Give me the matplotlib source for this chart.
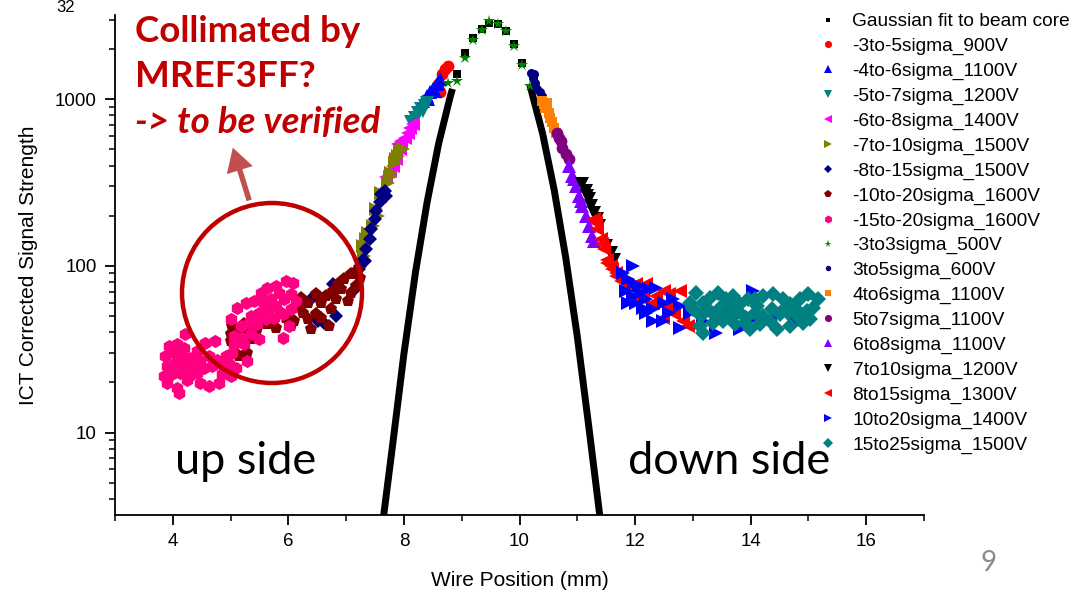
import matplotlib
matplotlib.use("Agg")
import matplotlib.pyplot as plt
from matplotlib.patches import Ellipse, FancyArrowPatch
from matplotlib.ticker import LogLocator, MultipleLocator, NullFormatter, FixedLocator


# ============================================
# Wire scan of the beam halo
# ICT corrected signal vs wire position, one series per
# sigma range / detector HV setting, with the Gaussian core fit
# ============================================

# Gaussian fit to the beam core (sparse points at the top + dense tails)
fit_x = [8.91, 9.06, 9.20, 9.35, 9.48, 9.62, 9.77, 9.91, 10.05]
fit_y = [1413, 1888, 2315, 2633, 2860, 2818, 2573, 2138, 1660]
fit_left_x = [7.64, 7.80, 8.00, 8.20, 8.40, 8.60, 8.80, 8.84]
fit_left_y = [3.0, 8.2, 29.7, 91.6, 240, 540, 1033, 1153]
fit_right_x = [10.18, 10.40, 10.60, 10.80, 11.00, 11.20, 11.42]
fit_right_y = [1216, 622, 286, 112, 37.7, 10.8, 2.6]

# up side
m3_5_x = [8.536, 8.593, 8.652, 8.710, 8.757, 8.623]
m3_5_y = [1148, 1230, 1413, 1514, 1585, 1097]

m4_6_x = [8.333, 8.391, 8.449, 8.508, 8.565, 8.623, 8.420, 8.536, 8.593]
m4_6_y = [977, 1047, 1097, 1148, 1230, 1318, 1000, 1122, 1259]

m5_7_x = [8.130, 8.188, 8.247, 8.304, 8.362, 8.391, 8.217, 8.333]
m5_7_y = [725, 776, 832, 871, 912, 955, 759, 851]

m6_8_x = [7.696, 7.753, 7.812, 7.870, 7.927, 7.957, 8.014, 8.073, 8.101, 8.160, 7.899, 7.840]
m6_8_y = [339, 371, 397, 436, 501, 562, 589, 631, 676, 708, 537, 456]

m7_10_x = [7.290, 7.348, 7.464, 7.522, 7.609, 7.725, 7.783, 7.840, 7.899, 7.927,
           7.986, 7.753, 7.870, 7.551, 7.316, 7.377]
m7_10_y = [131, 144, 173, 218, 275, 316, 363, 417, 456, 489,
           501, 339, 436, 199, 115, 158]

m8_15_x = [6.392, 6.508, 6.623, 6.826, 6.768, 7.145, 7.232, 7.319,
           7.231, 7.290, 7.348, 7.405, 7.435, 7.492, 7.522, 7.579, 7.609, 7.666, 7.696]
m8_15_y = [63.0, 46.7, 45.6, 50.0, 77.4, 72.3, 99.8, 107,
           95.3, 109, 126, 144, 166, 190, 213, 240, 269, 281, 263]

m10_20_x = [5.029, 5.000, 5.058, 5.145, 5.290, 5.145, 5.290, 5.464, 5.348, 5.522,
            5.667, 5.783, 5.957, 6.102, 6.218, 6.334, 6.247, 6.392, 6.479, 6.565,
            6.479, 6.652, 6.739, 6.710, 6.826, 6.913, 6.971, 7.087, 7.174, 7.029,
            7.087, 7.232, 6.855, 6.768, 6.160, 6.334, 6.565, 5.638, 5.232, 5.000,
            5.522, 5.870, 6.044, 7.200, 7.150]
m10_20_y = [43.6, 38.8, 33.0, 28.7, 30.1, 40.6, 39.7, 41.6, 36.2, 48.9,
            54.8, 42.6, 48.9, 46.7, 64.4, 60.1, 52.4, 41.6, 67.5, 60.1,
            51.2, 65.9, 54.8, 43.6, 63.0, 72.3, 83.0, 88.9, 75.7, 61.5,
            69.0, 84.9, 77.4, 70.6, 57.4, 47.8, 48.9, 44.6, 44.6, 35.4,
            46.7, 52.4, 43.6, 95.0, 90.0]

m15_20_x = [3.928, 4.073, 4.189, 3.870, 4.015, 4.160, 4.305, 4.421, 4.566, 4.739,
            4.218, 3.899, 4.044, 4.189, 4.334, 4.479, 4.623, 4.768, 4.913, 5.029,
            3.841, 3.986, 4.131, 4.276, 4.421, 4.537, 4.681, 4.826, 4.971, 5.087,
            3.899, 4.073, 4.247, 4.479, 4.623, 4.797, 5.000, 4.102, 4.363, 4.855,
            5.000, 5.116, 5.261, 5.406, 5.522, 5.638, 5.783, 5.957, 6.073, 5.348,
            5.493, 5.638, 5.783, 5.928, 6.044, 6.131, 5.174, 5.319, 5.464, 5.609,
            5.754, 5.899, 6.044, 5.058, 5.203, 5.348, 5.493, 5.899, 6.015, 5.232,
            5.290, 5.058, 5.696, 5.841, 5.580]
m15_20_y = [33.0, 33.8, 32.3, 28.7, 30.1, 28.7, 28.1, 30.8, 34.6, 35.4,
            38.8, 25.0, 26.2, 25.0, 26.8, 27.4, 28.7, 27.4, 28.7, 30.1,
            21.8, 22.3, 22.8, 21.8, 22.8, 24.4, 25.0, 25.6, 25.6, 24.4,
            19.9, 18.5, 20.8, 19.9, 19.1, 19.7, 21.8, 17.3, 23.9, 22.3,
            47.8, 56.1, 60.0, 61.5, 69.0, 74.0, 76.0, 81.0, 79.0, 50.0,
            52.4, 54.8, 57.4, 63.0, 67.5, 61.5, 43.6, 45.6, 44.6, 47.8,
            48.9, 51.2, 54.8, 37.9, 37.1, 38.8, 36.2, 37.1, 43.6, 33.8,
            26.8, 33.8, 63.0, 69.0, 60.0]

# beam core
core_x = [8.77, 8.91, 9.06, 9.20, 9.35, 9.48, 9.62, 9.77, 9.91, 10.05, 10.19]
core_y = [1259, 1288, 1778, 2268, 2606, 2953, 2810, 2551, 2075, 1601, 1202]

# down side
p3_5_x = [10.205, 10.229, 10.275, 10.304, 10.362, 10.391, 10.246]
p3_5_y = [1445, 1349, 1259, 1148, 1097, 1047, 1413]

p4_6_x = [10.391, 10.449, 10.508, 10.536, 10.565, 10.595, 10.623, 10.478, 10.420]
p4_6_y = [977, 891, 832, 776, 725, 676, 631, 955, 933]

p5_7_x = [10.652, 10.710, 10.739, 10.797, 10.855, 10.681]
p5_7_y = [631, 562, 513, 468, 436, 589]

p6_8_x = [10.855, 10.913, 10.971, 11.030, 11.087, 11.145, 11.203, 11.261, 11.290, 10.942, 11.058]
p6_8_y = [398, 347, 302, 263, 229, 199, 173, 151, 141, 331, 245]

p7_10_x = [11.087, 11.145, 11.203, 11.230, 11.290, 11.377, 11.492, 11.579, 11.637, 11.174, 11.348]
p7_10_y = [309, 281, 251, 229, 209, 173, 131, 120, 109, 263, 190]

p8_15_x = [11.290, 11.348, 11.405, 11.464, 11.522, 11.579, 11.667, 11.319, 11.435,
           11.522, 11.609, 11.666, 11.753, 11.870, 12.014, 12.188, 12.362, 12.508, 12.595,
           12.769, 12.565, 12.682, 12.826, 12.304, 12.130, 11.957, 12.913, 12.478]
p8_15_y = [190, 166, 144, 126, 109, 99.8, 91.0, 182, 135,
           104, 95.3, 86.9, 81.1, 75.7, 77.5, 77.5, 65.9, 70.6, 67.5,
           70.6, 57.4, 51.2, 46.6, 60.1, 63.0, 63.0, 43.5, 48.9]

p10_20_x = [11.957, 11.783, 11.870, 11.986, 12.073, 11.838, 11.957, 12.099, 12.247, 12.362,
            12.188, 12.014, 11.870, 12.304, 12.508, 12.652, 12.769, 12.188, 12.478, 12.769,
            13.174, 13.464, 13.638, 13.812, 14.043, 14.449, 14.797, 13.405, 12.943, 13.870,
            14.043, 12.304, 12.130, 12.595]
p10_20_y = [99.8, 91.0, 83.0, 79.3, 75.7, 70.6, 65.9, 69.0, 72.3, 73.9,
            63.0, 60.1, 60.1, 54.8, 60.1, 63.0, 57.4, 52.4, 46.6, 42.5,
            46.6, 50.0, 54.8, 41.6, 70.6, 50.0, 45.6, 39.7, 52.4, 52.4,
            47.8, 46.6, 56.1, 52.4]

p15_25_x = [13.058, 13.174, 13.290, 13.435, 13.580, 13.696, 13.812, 13.957, 14.102, 14.217,
            14.391, 14.565, 14.681, 14.855, 15.000, 15.174, 13.000, 13.145, 13.290, 13.464,
            13.638, 13.783, 13.928, 14.073, 14.217, 14.362, 14.507, 14.652, 14.797, 14.971,
            15.087, 13.116, 13.348, 13.522, 13.725, 13.899, 14.159, 14.449, 14.681, 14.913,
            13.174, 13.986, 14.333, 15.029, 12.942, 14.594, 13.696, 13.435, 14.073, 14.768]
p15_25_y = [69.0, 60.1, 64.4, 69.0, 63.0, 65.9, 58.7, 63.0, 57.4, 65.9,
            67.5, 63.0, 58.7, 63.0, 67.5, 63.0, 54.8, 50.0, 53.6, 56.1,
            51.2, 53.6, 48.9, 52.4, 50.0, 54.8, 51.2, 52.4, 50.0, 53.6,
            56.1, 43.6, 45.6, 46.7, 44.6, 45.6, 44.6, 41.6, 43.6, 45.6,
            39.6, 41.6, 46.7, 47.8, 60.1, 56.1, 57.4, 51.2, 63.0, 56.1]

x_ticks = [4, 6, 8, 10, 12, 14, 16]
y_ticks = [10, 100, 1000]

RED = "#C00000"
FONT = "Liberation Sans"


def series_table():
    # label, x, y, marker, colour, marker size
    return [
        ("Gaussian fit to beam core", fit_x, fit_y, "s", "black", 6.0),
        ("-3to-5sigma_900V", m3_5_x, m3_5_y, "o", "#FF0000", 8.5),
        ("-4to-6sigma_1100V", m4_6_x, m4_6_y, "^", "#0000FF", 9.5),
        ("-5to-7sigma_1200V", m5_7_x, m5_7_y, "v", "#008080", 9.5),
        ("-6to-8sigma_1400V", m6_8_x, m6_8_y, "<", "#FF00FF", 9.5),
        ("-7to-10sigma_1500V", m7_10_x, m7_10_y, ">", "#808000", 9.5),
        ("-8to-15sigma_1500V", m8_15_x, m8_15_y, "D", "#000080", 7.5),
        ("-10to-20sigma_1600V", m10_20_x, m10_20_y, "p", "#800000", 9.5),
        ("-15to-20sigma_1600V", m15_20_x, m15_20_y, "h", "#FF0080", 9.5),
        ("-3to3sigma_500V", core_x, core_y, "*", "#008000", 9.0),
        ("3to5sigma_600V", p3_5_x, p3_5_y, "o", "#000080", 6.5),
        ("4to6sigma_1100V", p4_6_x, p4_6_y, "s", "#FF8000", 7.5),
        ("5to7sigma_1100V", p5_7_x, p5_7_y, "o", "#800080", 8.5),
        ("6to8sigma_1100V", p6_8_x, p6_8_y, "^", "#8000FF", 9.5),
        ("7to10sigma_1200V", p7_10_x, p7_10_y, "v", "black", 9.5),
        ("8to15sigma_1300V", p8_15_x, p8_15_y, "<", "#FF0000", 9.5),
        ("10to20sigma_1400V", p10_20_x, p10_20_y, ">", "#0000FF", 9.5),
        ("15to25sigma_1500V", p15_25_x, p15_25_y, "D", "#008080", 8.5),
    ]


def draw_scan(fig, ax):
    # dense tails of the core fit drawn as a thick black curve
    ax.plot(fit_left_x, fit_left_y, color="black", lw=5, solid_capstyle="butt", zorder=2)
    ax.plot(fit_right_x, fit_right_y, color="black", lw=5, solid_capstyle="butt", zorder=2)

    for label, xs, ys, marker, color, size in series_table():
        ax.plot(xs, ys, linestyle="none", marker=marker, color=color, markersize=size,
                markeredgewidth=0, label=label, zorder=3)

    ax.set_xlim(3, 17)
    ax.set_yscale("log")
    ax.set_ylim(3.2, 3200)

    ax.xaxis.set_major_locator(FixedLocator(x_ticks))
    ax.xaxis.set_minor_locator(MultipleLocator(1))
    ax.yaxis.set_major_locator(FixedLocator(y_ticks))
    ax.yaxis.set_minor_locator(LogLocator(base=10, subs=range(2, 10)))
    ax.yaxis.set_minor_formatter(NullFormatter())
    ax.set_yticklabels([str(t) for t in y_ticks])

    for side in ("top", "right"):
        ax.spines[side].set_visible(False)
    for side in ("left", "bottom"):
        ax.spines[side].set_linewidth(1.3)
    ax.tick_params(which="major", direction="out", length=7, width=1.3, labelsize=13.5, pad=6)
    ax.tick_params(which="minor", direction="out", length=4, width=1.1)
    for lab in ax.get_xticklabels() + ax.get_yticklabels():
        lab.set_fontfamily(FONT)

    ax.set_xlabel("Wire Position (mm)", fontsize=15, family=FONT, labelpad=15)
    ax.set_ylabel("ICT Corrected Signal Strength", fontsize=15, family=FONT, labelpad=12)

    fig.legend(loc="upper left", bbox_to_anchor=(818 / 1081, 1 - 13 / 590),
               frameon=False, prop={"family": FONT, "size": 13.8},
               markerscale=0.6, handlelength=1.0, handletextpad=0.8,
               labelspacing=0.38, borderpad=0, borderaxespad=0)


def draw_notes(fig):
    def px(x, y):
        return x / 1081, 1 - y / 590

    note = dict(color=RED, fontsize=26.5, family="Lato", fontweight="bold", va="baseline")
    fig.text(*px(135, 42), "Collimated by", **note)
    fig.text(*px(135, 87), "MREF3FF?", **note)
    fig.text(*px(135, 133), "-> to be verified", style="italic", **note)

    fig.text(*px(175, 474), "up side", fontsize=32.5, family="Lato", va="baseline")
    fig.text(*px(628, 474), "down side", fontsize=32.5, family="Lato", va="baseline")

    ring = Ellipse(px(272, 293), 180 / 1081, 180 / 590, transform=fig.transFigure,
                   fill=False, edgecolor="#C00000", lw=3.2, zorder=10)
    fig.add_artist(ring)

    arrow = FancyArrowPatch(px(250, 203), px(232, 145), transform=fig.transFigure,
                            arrowstyle="simple,head_length=1.3,head_width=1.5,tail_width=0.3",
                            mutation_scale=13, color="#C0504D", lw=0, zorder=10)
    fig.add_artist(arrow)

    fig.text(*px(56, 12), "32", fontsize=12, family=FONT, va="baseline")
    fig.text(*px(980, 563), "9", fontsize=20, family="Lato", color="#8C8C8C", va="center")


def main() -> None:
    fig = plt.figure(figsize=(10.81, 5.9), dpi=100)
    ax = fig.add_axes([115 / 1081, 1 - 515 / 590, (924 - 115) / 1081, (515 - 15) / 590])
    draw_scan(fig, ax)
    draw_notes(fig)
    fig.savefig("out.png", dpi=100)


if __name__ == "__main__":
    main()
